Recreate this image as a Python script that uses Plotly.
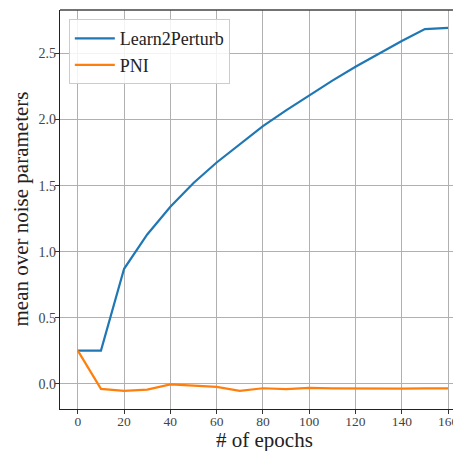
import plotly.graph_objects as go

epochs = [0, 10, 20, 30, 40, 50, 60, 70, 80, 90, 100, 110, 120, 130, 140, 150, 160]
learn2perturb = [0.25, 0.25, 0.87, 1.13, 1.34, 1.52, 1.675, 1.815, 1.95, 2.07, 2.185, 2.295, 2.40, 2.50, 2.595, 2.685, 2.695]
pni = [0.25, -0.04, -0.055, -0.045, -0.005, -0.015, -0.025, -0.055, -0.035, -0.042, -0.032, -0.036, -0.038, -0.038, -0.037, -0.036, -0.036]
x_ticks = [0, 20, 40, 60, 80, 100, 120, 140, 160]
y_ticks = [0.0, 0.5, 1.0, 1.5, 2.0, 2.5]
y_tick_labels = ["0.0", "0.5", "1.0", "1.5", "2.0", "2.5"]

FONT = "Liberation Serif"

fig = go.Figure()
fig.add_trace(go.Scatter(x=epochs, y=learn2perturb, mode="lines", name="Learn2Perturb",
                         line=dict(color="#1f77b4", width=2.2)))
fig.add_trace(go.Scatter(x=epochs, y=pni, mode="lines", name="PNI",
                         line=dict(color="#ff7f0e", width=2.2)))

# page body adds an 8px offset, so the figure is sized to fit the visible window
fig.update_layout(
    width=453, height=443,
    margin=dict(l=52, r=0, t=2, b=42, autoexpand=False),
    plot_bgcolor="white", paper_bgcolor="white",
    font=dict(family=FONT, color="#333333"),
    showlegend=True,
    legend=dict(x=0.022, y=0.977, xanchor="left", yanchor="top",
                bgcolor="rgba(255,255,255,0.85)", bordercolor="#cccccc", borderwidth=1,
                font=dict(family=FONT, size=18, color="#222222"),
                itemwidth=40, tracegroupgap=0),
    xaxis=dict(range=[-7.7, 165.6], tickvals=x_ticks, ticks="outside", ticklen=4,
               tickcolor="#333333", showgrid=True, gridcolor="#b0b0b0", gridwidth=1,
               zeroline=False, showline=True, linecolor="#222222", linewidth=1.3,
               mirror=False, automargin=False, ticklabeloverflow="allow",
               ticklabelstandoff=-4,
               tickfont=dict(size=13.5, family=FONT, color="#444444")),
    yaxis=dict(range=[-0.192, 2.83], tickvals=y_ticks, ticktext=y_tick_labels,
               ticks="outside", ticklen=4, tickcolor="#333333", automargin=False,
               ticklabelstandoff=-4,
               showgrid=True, gridcolor="#b0b0b0", gridwidth=1, zeroline=False,
               showline=True, linecolor="#222222", linewidth=1.3,
               tickfont=dict(size=14, family=FONT, color="#444444")),
    annotations=[
        dict(text="# of epochs", xref="paper", yref="paper", x=0.5, y=0,
             xanchor="center", yanchor="top", yshift=-17, xshift=4, showarrow=False,
             font=dict(size=21, family=FONT, color="#222222")),
        dict(text="mean over noise parameters", xref="paper", yref="paper", x=0, y=0.5,
             xanchor="center", yanchor="middle", xshift=-40, textangle=-90, showarrow=False,
             font=dict(size=21, family=FONT, color="#222222")),
    ],
)
# top spine
fig.add_shape(type="line", xref="paper", yref="paper", x0=0, x1=1, y0=1, y1=1,
              line=dict(color="#444444", width=1.3))

fig.write_html("out.html")
